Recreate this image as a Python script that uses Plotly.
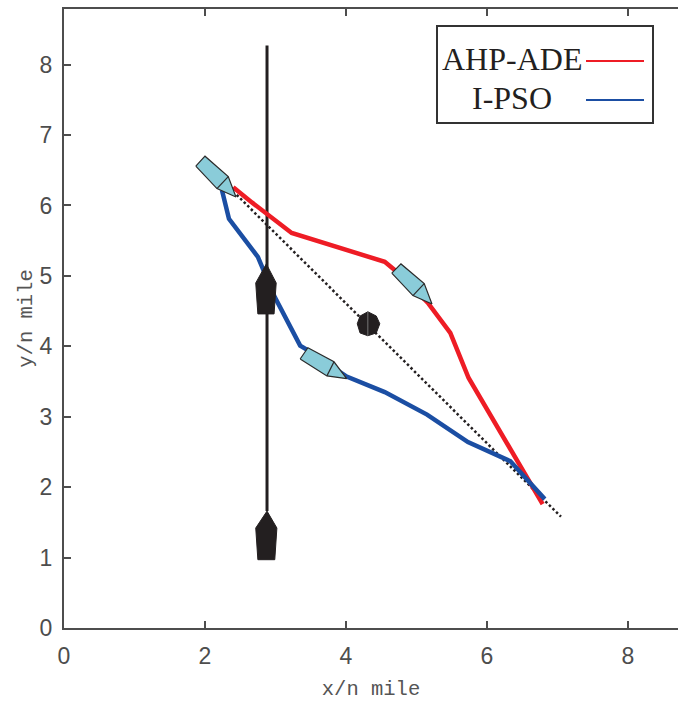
import plotly.graph_objects as go

# ---- data (axis units, n mile) ----
red_x = [2.40, 2.67, 3.23, 4.55, 4.72, 5.16, 5.48, 5.74, 6.79]
red_y = [6.26, 6.04, 5.61, 5.20, 5.06, 4.62, 4.19, 3.55, 1.76]
blue_x = [2.24, 2.34, 2.75, 2.99, 3.35, 3.45, 4.01, 4.55, 5.15, 5.73, 6.33, 6.82]
blue_y = [6.22, 5.81, 5.27, 4.70, 4.01, 3.95, 3.57, 3.35, 3.03, 2.64, 2.37, 1.83]
direct_x = [2.45, 7.05]
direct_y = [6.15, 1.58]
channel_x = [2.88, 2.88]
channel_y = [8.27, 1.66]
buoy_upper_x = [2.87, 3.01, 2.98, 2.75, 2.72]
buoy_upper_y = [5.17, 4.90, 4.46, 4.46, 4.90]
buoy_lower_x = [2.88, 3.02, 2.99, 2.75, 2.72]
buoy_lower_y = [1.66, 1.42, 0.97, 0.97, 1.42]
obstacle_x = [4.31, 4.43, 4.48, 4.43, 4.31, 4.20, 4.16, 4.20]
obstacle_y = [4.49, 4.43, 4.32, 4.19, 4.15, 4.19, 4.32, 4.43]
ship_a_x = [1.87, 2.00, 2.33, 2.44, 2.17]
ship_a_y = [6.56, 6.70, 6.41, 6.12, 6.24]
ship_b_x = [4.65, 4.78, 5.11, 5.22, 4.95]
ship_b_y = [5.04, 5.17, 4.89, 4.60, 4.72]
ship_c_x = [3.35, 3.46, 3.83, 4.01, 3.73]
ship_c_y = [3.82, 3.98, 3.78, 3.54, 3.58]
x_ticks = [0, 2, 4, 6, 8]
y_ticks = [0, 1, 2, 3, 4, 5, 6, 7, 8]
series_names = ["AHP-ADE", "I-PSO"]

RED = "#ee1c25"
BLUE = "#1b4ea3"
DARK = "#231f20"
AXIS = "#4d4d4d"
SHIP = "#8accd9"

WIDTH, HEIGHT = 678, 704
L, R, T, B = 64, 0, 9, 76


def px(x):
    return (x - L) / (WIDTH - L - R)


def py(y):
    return (HEIGHT - B - y) / (HEIGHT - T - B)


fig = go.Figure()


def line(xs, ys, color, width, dash="solid"):
    fig.add_trace(go.Scatter(x=xs, y=ys, mode="lines", showlegend=False, hoverinfo="skip",
                             line=dict(color=color, width=width, dash=dash)))


def poly(xs, ys, fill, edge, width):
    fig.add_trace(go.Scatter(x=xs + xs[:1], y=ys + ys[:1], mode="lines", fill="toself",
                             fillcolor=fill, showlegend=False, hoverinfo="skip",
                             line=dict(color=edge, width=width)))


line(direct_x, direct_y, DARK, 2.5, "2.5px,2.5px")
line(channel_x, channel_y, DARK, 3)
line(red_x, red_y, RED, 4.5)
line(blue_x, blue_y, BLUE, 4.5)
poly(buoy_upper_x, buoy_upper_y, DARK, DARK, 1)
poly(buoy_lower_x, buoy_lower_y, DARK, DARK, 1)
poly(obstacle_x, obstacle_y, DARK, DARK, 1)
line([obstacle_x[0], obstacle_x[4]], [obstacle_y[0], obstacle_y[4]], "#777777", 1)
for sx, sy in [(ship_a_x, ship_a_y), (ship_b_x, ship_b_y), (ship_c_x, ship_c_y)]:
    poly(sx, sy, SHIP, "#2b2b2b", 1.2)
    line([sx[2], sx[4]], [sy[2], sy[4]], "#2b2b2b", 1.2)

# legend box, drawn with the labels to the left of the keys as in the reference
fig.add_shape(type="rect", xref="paper", yref="paper", x0=px(437), x1=px(653), y0=py(123), y1=py(26),
              line=dict(color="#333333", width=2), fillcolor="white", layer="above")
for name, color, ty, ly in zip(series_names, [RED, BLUE], [59, 98], [61, 100]):
    fig.add_shape(type="line", xref="paper", yref="paper", x0=px(586), x1=px(644), y0=py(ly), y1=py(ly),
                  line=dict(color=color, width=2), layer="above")
    fig.add_annotation(text=name, xref="paper", yref="paper", x=px(512), y=py(ty), showarrow=False,
                       xanchor="center", yanchor="middle",
                       font=dict(family="Liberation Serif", size=32, color=DARK))

axis_common = dict(ticks="inside", ticklen=7, tickwidth=2, tickcolor=AXIS, showline=True, linecolor=AXIS,
                   linewidth=2, showgrid=False, zeroline=False,
                   tickfont=dict(family="Liberation Sans", size=23, color=AXIS))
title_font = dict(family="Liberation Mono", size=20.5, color="#555555")

fig.update_layout(
    width=WIDTH, height=HEIGHT, autosize=False,
    margin=dict(l=L, r=R, t=T, b=B),
    paper_bgcolor="white", plot_bgcolor="white", showlegend=False,
    xaxis=dict(range=[0, 8.71], tickvals=x_ticks, ticklabelstandoff=6, mirror="ticks",
               title=dict(text="x/n mile", font=title_font, standoff=13), **axis_common),
    yaxis=dict(range=[0, 8.79], tickvals=y_ticks, ticklabelstandoff=5,
               title=dict(text="y/n mile", font=title_font, standoff=1), **axis_common),
)

fig.write_html("out.html", post_script="document.body.style.margin='0';",
               config={"displayModeBar": False})
